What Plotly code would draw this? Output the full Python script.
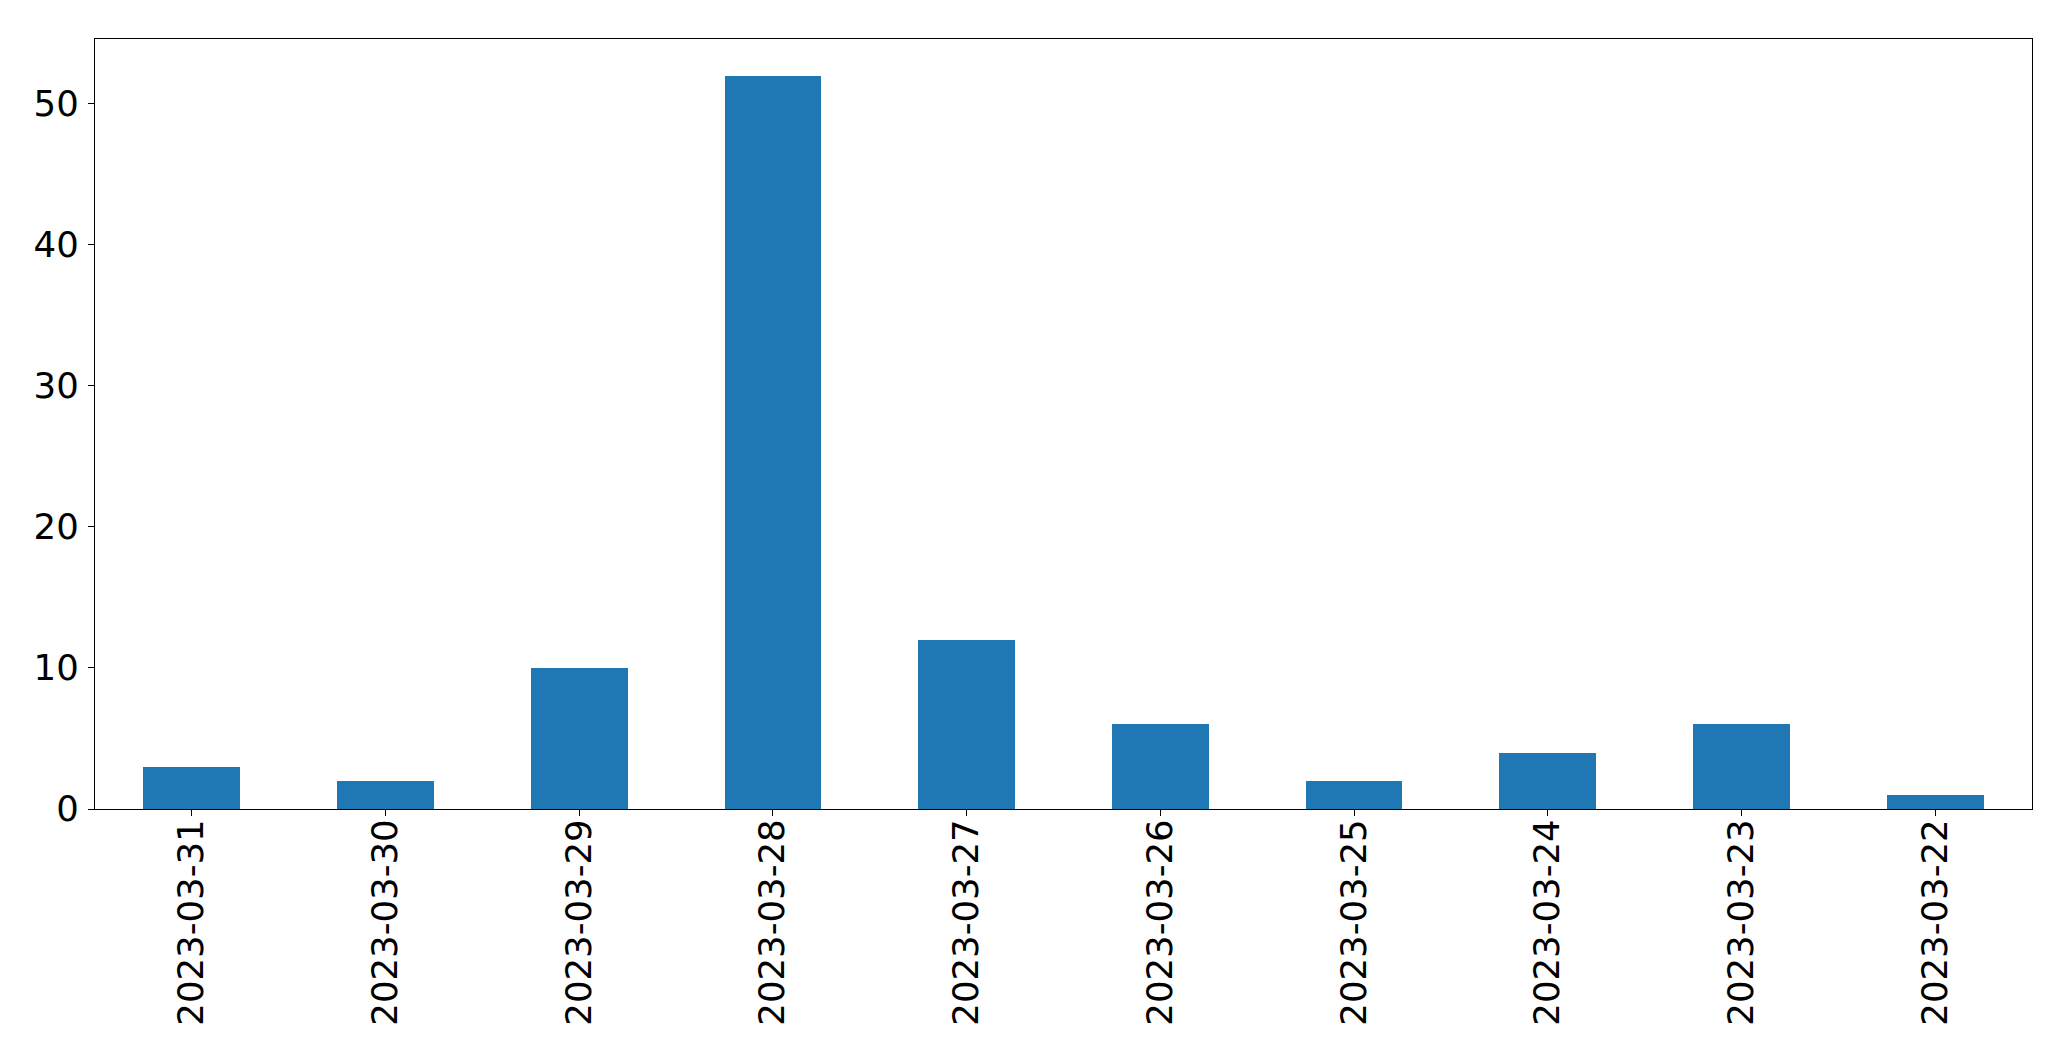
import plotly.graph_objects as go

dates = ["2023-03-31", "2023-03-30", "2023-03-29", "2023-03-28", "2023-03-27",
         "2023-03-26", "2023-03-25", "2023-03-24", "2023-03-23", "2023-03-22"]
counts = [3, 2, 10, 52, 12, 6, 2, 4, 6, 1]
y_ticks = [0, 10, 20, 30, 40, 50]

fig = go.Figure(go.Bar(x=list(range(len(dates))), y=counts, width=0.5,
                       marker=dict(color="#1f77b4", line=dict(width=0))))

font = dict(family="DejaVu Sans", size=35.5, color="black")
fig.update_layout(
    width=2071, height=1061,
    margin=dict(l=95, r=39, t=39, b=252, pad=0),
    paper_bgcolor="white", plot_bgcolor="white",
    showlegend=False, bargap=0,
    font=font,
)
fig.update_xaxes(
    range=[-0.5, len(dates) - 0.5],
    tickmode="array", tickvals=list(range(len(dates))), ticktext=dates,
    tickangle=-90, ticks="outside", ticklen=6, tickwidth=1.3, tickcolor="black",
    showline=True, linecolor="black", linewidth=1.3, mirror=True,
    showgrid=False, zeroline=False, tickfont=font, ticklabelstandoff=-11,
)
fig.update_yaxes(
    range=[0, 54.6],
    tickmode="array", tickvals=y_ticks, ticktext=[str(v) for v in y_ticks],
    ticks="outside", ticklen=6, tickwidth=1.3, tickcolor="black",
    showline=True, linecolor="black", linewidth=1.3, mirror=True,
    showgrid=False, zeroline=False, tickfont=font, ticklabelstandoff=2,
)
fig.write_html("out.html")
